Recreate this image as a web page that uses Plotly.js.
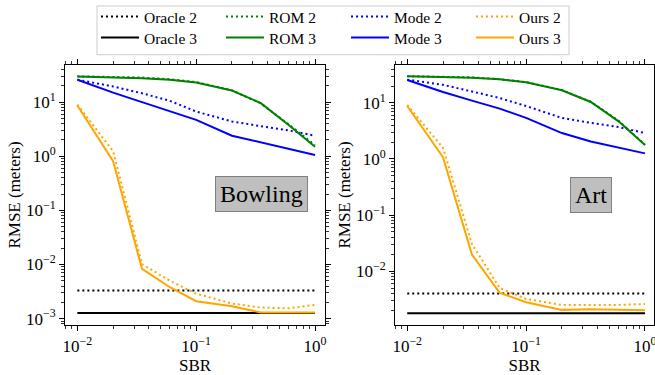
<!DOCTYPE html>
<html>
<head>
<meta charset="utf-8">
<script src="https://cdn.plot.ly/plotly-3.0.1.min.js"></script>
<style>html,body{margin:0;padding:0;background:#fff;}#chart{width:655px;height:375px;}</style>
</head>
<body>
<div id="chart"></div>
<script>
// ---- data ----
const sbr = [0.01, 0.02, 0.035, 0.06, 0.1, 0.2, 0.35, 0.6, 1.0];

// Bowling
const oracle2_bowling = [0.0033, 0.0033, 0.0033, 0.0033, 0.0033, 0.0033, 0.0033, 0.0033, 0.0033];
const oracle3_bowling = [0.00127, 0.00127, 0.00127, 0.00127, 0.00127, 0.00127, 0.00127, 0.00127, 0.00127];
const rom2_bowling  = [30, 29.5, 28.5, 26.5, 23.5, 16.5, 9.5, 3.9, 1.6];
const rom3_bowling  = [29.7, 29, 27.8, 26, 23, 16.4, 9.6, 3.8, 1.5];
const mode2_bowling = [26, 19.5, 14.6, 10.6, 6.7, 4.4, 3.6, 3.0, 2.4];
const mode3_bowling = [25.9, 15, 10, 6.9, 4.7, 2.4, 1.8, 1.4, 1.06];
const ours2_bowling = [9.0, 1.24, 0.0102, 0.005, 0.0029, 0.0019, 0.0016, 0.00155, 0.0018];
const ours3_bowling = [8.7, 0.81, 0.0083, 0.0038, 0.0021, 0.0017, 0.0013, 0.00128, 0.0013];

// Art
const oracle2_art = [0.0040, 0.0040, 0.0040, 0.0040, 0.0040, 0.0040, 0.0040, 0.0040, 0.0040];
const oracle3_art = [0.00178, 0.00178, 0.00178, 0.00178, 0.00178, 0.00178, 0.00178, 0.00178, 0.00178];
const rom2_art  = [30, 29.5, 28.5, 26.5, 23.5, 17, 10.5, 4.8, 1.8];
const rom3_art  = [29.8, 29, 28, 26.3, 23.3, 16.8, 10.4, 4.7, 1.78];
const mode2_art = [26, 21, 16, 12.2, 8.8, 5.4, 4.4, 3.7, 2.9];
const mode3_art = [25.6, 15.7, 11, 7.9, 5.4, 2.9, 2.05, 1.6, 1.26];
const ours2_art = [9.2, 1.58, 0.0306, 0.005, 0.0032, 0.0025, 0.0025, 0.0025, 0.0026];
const ours3_art = [8.8, 1.08, 0.0197, 0.0041, 0.0028, 0.00204, 0.0021, 0.00205, 0.0020];

const seriesNames = ['Oracle 2', 'Oracle 3', 'ROM 2', 'ROM 3', 'Mode 2', 'Mode 3', 'Ours 2', 'Ours 3'];
const panelTitles = ['Bowling', 'Art'];

const xTickVals = [0.01, 0.1, 1];
const xTickText = ['10<sup>−2</sup>', '10<sup>−1</sup>', '10<sup>0</sup>'];
const yTickVals = [0.001, 0.01, 0.1, 1, 10];
const yTickText = ['10<sup>−3</sup>', '10<sup>−2</sup>', '10<sup>−1</sup>', '10<sup>0</sup>', '10<sup>1</sup>'];

// ---- build ----
const colors = {Oracle: '#000000', ROM: '#008000', Mode: '#0000ff', Ours: '#ffa500'};
const panels = [
  [oracle2_bowling, oracle3_bowling, rom2_bowling, rom3_bowling, mode2_bowling, mode3_bowling, ours2_bowling, ours3_bowling],
  [oracle2_art, oracle3_art, rom2_art, rom3_art, mode2_art, mode3_art, ours2_art, ours3_art]
];

const FONT = 'Liberation Serif';
const traces = [];
const order = [0, 2, 4, 6, 1, 3, 5, 7];
panels.forEach((pdata, p) => {
  order.forEach(i => {
    const name = seriesNames[i];
    const method = name.split(' ')[0];
    const isDot = name.endsWith('2');
    traces.push({
      x: sbr, y: pdata[i], type: 'scatter', mode: 'lines', name: name,
      line: {color: colors[method], width: 2, dash: isDot ? '2px,3px' : 'solid'},
      xaxis: p === 0 ? 'x' : 'x2', yaxis: p === 0 ? 'y' : 'y2',
      showlegend: p === 0,
      legend: isDot ? 'legend' : 'legend2'
    });
  });
});

function minorVals(lo, hi) {
  const v = [];
  for (let e = lo; e <= hi; e++) for (let k = 2; k <= 9; k++) v.push(k * Math.pow(10, e));
  return v;
}

function xAxis(domain, range) {
  return {
    type: 'log', domain: domain, range: range,
    tickvals: xTickVals, ticktext: xTickText, ticklabeloverflow: 'allow',
    ticks: 'outside', ticklen: 5, tickwidth: 1, tickcolor: '#000',
    showline: true, linecolor: '#000', linewidth: 1, mirror: 'allticks',
    showgrid: false, zeroline: false,
    tickfont: {family: FONT, size: 17, color: '#000'},
    minor: {tickvals: minorVals(-3, 0), ticks: 'outside', ticklen: 3, tickwidth: 0.8, tickcolor: '#000', showgrid: false},
    title: {text: 'SBR', font: {family: FONT, size: 17, color: '#000'}, standoff: 3}
  };
}
function yAxis(anchor, range) {
  return {
    type: 'log', domain: [0.1333, 0.832], range: range, anchor: anchor,
    tickvals: yTickVals, ticktext: yTickText,
    ticks: 'outside', ticklen: 5, tickwidth: 1, tickcolor: '#000',
    showline: true, linecolor: '#000', linewidth: 1, mirror: 'allticks',
    showgrid: false, zeroline: false,
    tickfont: {family: FONT, size: 17, color: '#000'},
    minor: {tickvals: minorVals(-4, 1), ticks: 'outside', ticklen: 3, tickwidth: 0.8, tickcolor: '#000', showgrid: false},
    title: {text: 'RMSE (meters)', font: {family: FONT, size: 17, color: '#000'}, standoff: 0}
  };
}

const W = 655, H = 375;
const legendCommon = {
  orientation: 'h', xanchor: 'left', yanchor: 'top',
  entrywidth: 72, itemwidth: 38, bgcolor: 'rgba(0,0,0,0)', borderwidth: 0,
  font: {family: FONT, size: 15.5, color: '#000'}, tracegroupgap: 0
};
const layout = {
  width: W, height: H,
  margin: {l: 0, r: 0, t: 0, b: 0},
  paper_bgcolor: '#fff', plot_bgcolor: '#fff',
  font: {family: FONT, color: '#000'},
  xaxis: Object.assign(xAxis([65 / W, 325 / W], [-2.104, 0.084]), {anchor: 'y'}),
  yaxis: yAxis('x', [-3.123, 1.693]),
  xaxis2: Object.assign(xAxis([395 / W, 654 / W], [-2.103, 0.076]), {anchor: 'y2'}),
  yaxis2: yAxis('x2', [-2.965, 1.682]),
  legend: Object.assign({x: 96 / W, y: 1 + 2 / H}, legendCommon),
  legend2: Object.assign({x: 96 / W, y: 1 - 19 / H}, legendCommon),
  shapes: [{
    type: 'rect', xref: 'paper', yref: 'paper',
    x0: 97 / W, x1: 569 / W, y0: 1 - 53 / H, y1: 1 - 4 / H,
    line: {color: '#cccccc', width: 1}, fillcolor: 'rgba(255,255,255,0.8)', layer: 'below'
  }],
  annotations: [
    {text: panelTitles[0], xref: 'paper', yref: 'paper', x: 261 / W, y: 1 - 193.5 / H,
     xanchor: 'center', yanchor: 'middle', showarrow: false,
     font: {family: FONT, size: 24, color: '#000'},
     bgcolor: '#bfbfbf', bordercolor: '#808080', borderwidth: 1, borderpad: 4},
    {text: panelTitles[1], xref: 'paper', yref: 'paper', x: 590.5 / W, y: 1 - 194 / H,
     xanchor: 'center', yanchor: 'middle', showarrow: false,
     font: {family: FONT, size: 24, color: '#000'},
     bgcolor: '#bfbfbf', bordercolor: '#808080', borderwidth: 1, borderpad: 4}
  ]
};

Plotly.newPlot('chart', traces, layout, {displayModeBar: false, staticPlot: true});
</script>
</body>
</html>
